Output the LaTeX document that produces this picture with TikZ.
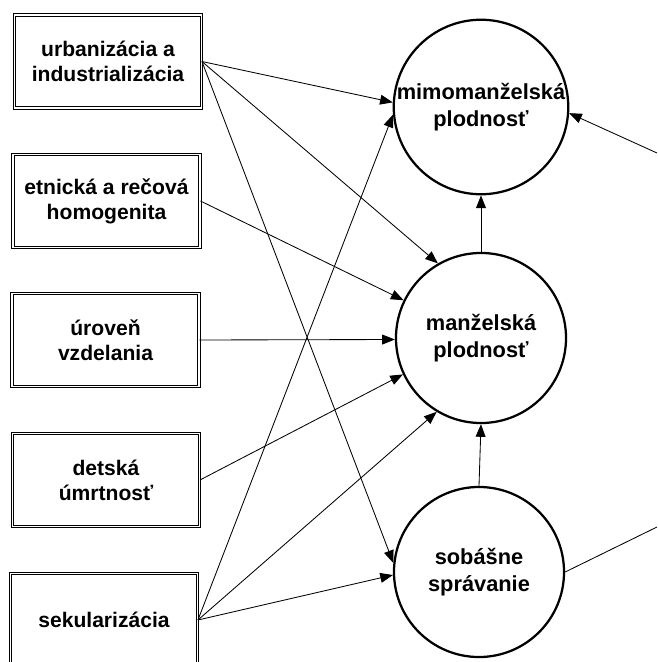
\documentclass[tikz,border=0pt]{standalone}
\usepackage{fontspec}
\setmainfont{Liberation Sans}
\usetikzlibrary{positioning}
\usetikzlibrary{arrows.meta}

\begin{document}
\begin{tikzpicture}[x=0.025cm, y=-0.025cm,
  factor/.style={draw, double, double distance=1.2pt, line width=0.6pt, minimum width=4.675cm, minimum height=2.325cm, inner sep=0pt, align=center, font=\bfseries\fontsize{15}{17.8}\selectfont},
  outcome/.style={circle, draw, line width=1.6pt, minimum size=4.25cm, inner sep=0pt, align=center, font=\bfseries\fontsize{15.5}{19.5}\selectfont},
  effect/.style={-{Triangle[length=9pt, width=7pt]}, line width=0.6pt}]

\useasboundingbox (0,0) rectangle (657,662);
\clip (0,0) rectangle (657,662);

% factors
\node[factor] at (108,61.5) (urb) {urbanizácia a\\industrializácia};
\node[factor] at (106.5,201) (etn) {etnická a rečová\\homogenita};
\node[factor] at (105.5,340) (uro) {úroveň\\vzdelania};
\node[factor] at (106,480) (det) {detská\\úmrtnosť};
\node[factor] at (104,620) (sek) {sekularizácia};

% outcomes
\node[outcome] at (481,107) (mimo) {mimomanželská\\plodnosť};
\node[outcome] at (481,338) (manz) {manželská\\plodnosť};
\node[outcome] at (479,572) (sob) {sobášne\\správanie};

\coordinate (outT) at (657,153);
\coordinate (outB) at (657,527);

% effects
\draw[effect] (urb.east) -- (mimo.177);
\draw[effect] (urb.east) -- (manz.120);
\draw[effect] (urb.east) -- (sob.174);
\draw[effect] (etn.east) -- (manz.154);
\draw[effect] (uro.east) -- (manz.181);
\draw[effect] (det.east) -- (manz.205);
\draw[effect] (sek.east) -- (mimo.185);
\draw[effect] (sek.east) -- (manz.239);
\draw[effect] (sek.east) -- (sob.182);
\draw[effect] (manz.north) -- (mimo.south);
\draw[effect] (sob.north) -- (manz.south);
\draw[effect] (outT) -- (mimo.356);
\draw[line width=0.6pt] (sob.east) -- (outB);

\end{tikzpicture}
\end{document}
